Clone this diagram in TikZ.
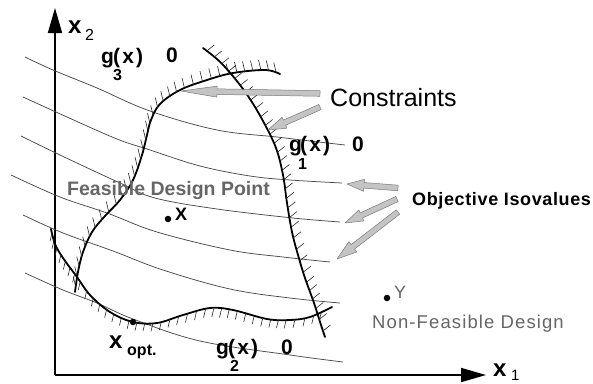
\documentclass[tikz,border=0pt]{standalone}
\usepackage{fontspec}
\setmainfont{Liberation Sans}
\newfontfamily\wideA[LetterSpace=3.5]{Liberation Sans}
\newfontfamily\wideB[LetterSpace=6]{Liberation Sans}
\newfontfamily\wideC[LetterSpace=10]{Liberation Sans}
\usetikzlibrary{arrows.meta,calc}
\definecolor{isogray}{HTML}{4A4A4A}
\definecolor{arrowfill}{HTML}{C4C4C4}
\definecolor{arrowline}{HTML}{7A7A7A}
\definecolor{softtext}{HTML}{666666}
\newcommand{\fsz}[1]{\fontsize{#1}{#1}\selectfont}
\newcommand{\blockarrow}[5]{%
  \coordinate (#1h) at ($(#3)!#4!(#2)$);
  \filldraw[fatarrow] (#3) -- ($(#1h)!#5!90:(#3)$) -- ($(#1h)!2.8pt!90:(#3)$)
    -- ($(#2)!2.8pt!90:(#3)$) -- ($(#2)!2.8pt!-90:(#3)$)
    -- ($(#1h)!2.8pt!-90:(#3)$) -- ($(#1h)!#5!-90:(#3)$) -- cycle;}
% hatch strokes along a polyline: #1 points x/y, #2 dx, #3 dy, #4 spacing
\newcommand{\hatchline}[4]{%
  \foreach \cx/\cy [remember=\cx as \lx (initially -1), remember=\cy as \ly (initially -1)] in {#1} {%
    \ifdim\lx pt>-0.5pt
      \pgfmathsetmacro\seglen{veclen(\cx-\lx,\cy-\ly)}%
      \pgfmathtruncatemacro\nh{max(1,round(\seglen/#4))}%
      \foreach \i in {1,...,\nh} {%
        \pgfmathsetmacro\hfrac{(\i-0.5)/\nh}%
        \draw[hatchmark] ($(\lx,\ly)!\hfrac!(\cx,\cy)$) -- ++(#2,#3);
      }%
    \fi
  }}
\tikzset{
  iso/.style={draw=isogray, line width=0.75pt},
  constraint/.style={draw=black, line width=1.8pt, line cap=round},
  axisline/.style={draw=black, line width=1.7pt},
  hatchmark/.style={line width=0.6pt, draw=black!85},
  fatarrow/.style={fill=arrowfill, draw=arrowline, line width=0.5pt, line join=round},
  lbl/.style={inner sep=0pt, anchor=base west},
  glabel/.style={lbl, font=\fsz{21}\bfseries},
  gargs/.style={lbl, font=\fsz{21}\bfseries\wideC},
  gsub/.style={lbl, font=\fsz{16}\bfseries},
  dotmark/.style={circle, fill=black, inner sep=0pt, minimum size=6.5pt},
}
\begin{document}
\begin{tikzpicture}[x=1pt, y=-1pt]
\useasboundingbox (0,0) rectangle (593,383);
% axes
\coordinate (o) at (55,375);
\coordinate (ytip) at (55,8);
\coordinate (xtip) at (486,375);
\draw[axisline, -{Triangle[length=25pt,width=14pt]}] (o) -- (ytip);
\draw[axisline, -{Triangle[length=25pt,width=14pt]}] (o) -- (xtip);
\node[lbl, font=\fsz{24}\bfseries] (xtwo) at (68,33) {x};
\node[lbl, font=\fsz{16}] (xtwosub) at (85,40) {2};
\node[lbl, font=\fsz{24}\bfseries] (xone) at (493,376) {x};
\node[lbl, font=\fsz{15}] (xonesub) at (511,380) {1};
% objective isovalues
\draw[iso] plot[smooth, tension=0.6] coordinates {(25,57) (53,70) (97,88) (150,111) (217,130) (277,137) (310,141) (345,145)};
\draw[iso] plot[smooth, tension=0.6] coordinates {(23,97) (67,117) (117,139) (150,150) (200,166) (250,176) (290,180) (342,183)};
\draw[iso] plot[smooth, tension=0.6] coordinates {(21,136) (60,155) (120,183) (155,198) (217,209) (293,218) (340,222)};
\draw[iso] plot[smooth, tension=0.6] coordinates {(11,175) (60,197) (107,213) (157,232) (230,250) (283,257) (330,262)};
\draw[iso] plot[smooth, tension=0.6] coordinates {(23,215) (63,233) (113,251) (163,270) (230,289) (290,298) (340,303)};
\draw[iso] plot[smooth, tension=0.6] coordinates {(25,273) (63,290) (97,303) (133,319) (200,341) (290,355) (343,362)};
% constraints
\draw[constraint] plot[smooth, tension=0.6] coordinates {(75,292) (78,272) (83,252) (92,232) (105,216) (120,200) (133,180) (142,155) (147,135) (151,120) (160,104) (180,90) (207,80) (233,73) (265,70) (280,74)};
\hatchline{75/292, 78/272, 83/252, 92/232, 105/216, 120/200, 133/180, 142/155, 147/135, 151/120, 160/104, 180/90, 207/80, 233/73, 265/70, 280/74}{-2.5}{-10.5}{9}
\draw[constraint] plot[smooth, tension=0.6] coordinates {(203,48) (218,60) (232,75) (248,96) (263,121) (276,148) (283,175) (287,203) (292,232) (298,255) (305,278) (314,303) (321,325) (325,337)};
\hatchline{203/48, 218/60, 232/75, 248/96, 263/121, 276/148, 283/175, 287/203, 292/232, 298/255, 305/278, 314/303, 321/325, 325/337}{7.5}{-6}{10}
\draw[constraint] plot[smooth, tension=0.6] coordinates {(51,229) (55,244) (63,258) (77,277) (90,295) (110,312) (133,322) (157,323) (183,315) (210,308) (233,310) (267,319) (290,320) (310,317) (332,307)};
\hatchline{51/229, 55/244, 63/258, 77/277, 90/295, 110/312, 133/322, 157/323, 183/315, 210/308, 233/310, 267/319, 290/320, 310/317, 325/311}{-2}{8.5}{9}
% constraint labels
\node[glabel] (gthree) at (101,63) {g};
\node[gargs] (gthreearg) at (113,63) {(x)};
\node[gsub] (gthreesub) at (113,80) {3};
\node[glabel] (gthreezero) at (166,62) {0};
\node[glabel] (gone) at (289,151) {g};
\node[gargs] (gonearg) at (300,151) {(x)};
\node[gsub] (gonesub) at (298,169) {1};
\node[glabel] (gonezero) at (352,151) {0};
\node[glabel] (gtwo) at (216,354) {g};
\node[gargs] (gtwoarg) at (228,354) {(x)};
\node[gsub] (gtwosub) at (230,371) {2};
\node[glabel] (gtwozero) at (281,354) {0};
% points
\node[dotmark] (xopt) at (133,322) {};
\node[lbl, font=\fsz{24}\bfseries] (xoptlbl) at (109,348) {x};
\node[lbl, font=\fsz{16}\bfseries] (xoptsub) at (127,355) {opt.};
\node[dotmark] (xpt) at (168,219) {};
\node[lbl, font=\fsz{18}\bfseries] (xptlbl) at (175,220) {X};
\node[dotmark] (ypt) at (387,298) {};
\node[lbl, font=\fsz{18}, text=softtext] (yptlbl) at (394,298) {Y};
% texts
\node[lbl, font=\fsz{25}] (constr) at (330,106) {Constraints};
\node[lbl, font=\fsz{18}\bfseries\wideA] (objiso) at (412,205) {Objective Isovalues};
\node[lbl, font=\fsz{19.5}\bfseries, text=softtext] (feas) at (67,195) {Feasible Design Point};
\node[lbl, font=\fsz{18.5}\wideB, text=softtext] (nonfeas) at (372,328) {Non-Feasible Design};
% block arrows
\coordinate (aonetail) at (320,93.5); \coordinate (aonetip) at (181,91);
\coordinate (atwotail) at (320,107); \coordinate (atwotip) at (268,130);
\coordinate (athreetail) at (398,188); \coordinate (athreetip) at (347,184);
\coordinate (afourtail) at (397,199); \coordinate (afourtip) at (345,223);
\coordinate (afivetail) at (398,212); \coordinate (afivetip) at (337,259);
\blockarrow{aone}{aonetail}{aonetip}{36pt}{5.5pt}
\blockarrow{atwo}{atwotail}{atwotip}{18pt}{6pt}
\blockarrow{athree}{athreetail}{athreetip}{17pt}{6pt}
\blockarrow{afour}{afourtail}{afourtip}{18pt}{6pt}
\blockarrow{afive}{afivetail}{afivetip}{20pt}{6.5pt}
\end{tikzpicture}
\end{document}
